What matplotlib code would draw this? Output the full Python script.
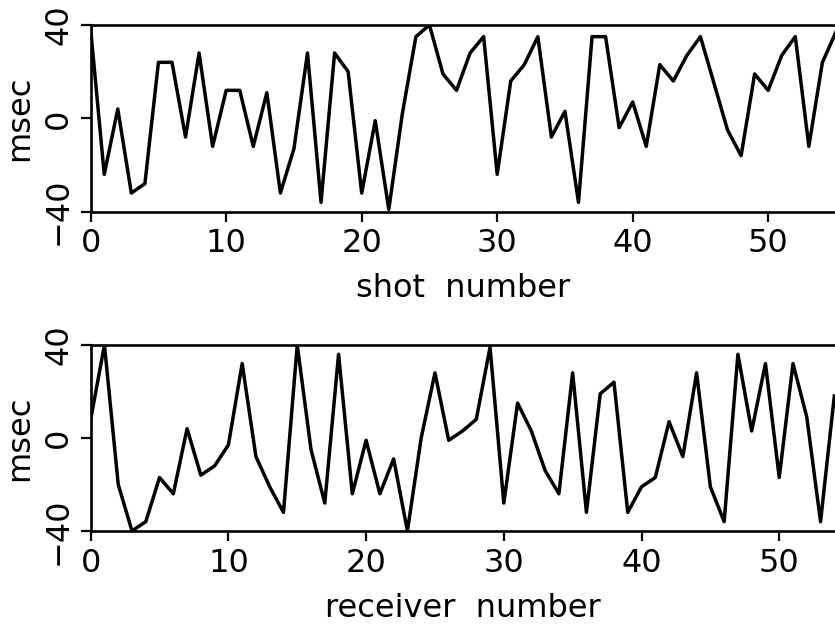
import matplotlib.pyplot as plt
import numpy as np

# Laufzeitfehler je Schuss und je Empfaenger (msec)
shot_nr = np.arange(56)
shot_ms = [38, -24, 4, -32, -28, 24, 24, -8, 28, -12,
           12, 12, -12, 11, -32, -13, 28, -36, 28, 20,
           -32, -1, -39, 2, 35, 40, 19, 12, 28, 35,
           -24, 16, 23, 35, -8, 3, -36, 35, 35, -4,
           7, -12, 23, 16, 27, 35, 15, -5, -16, 19,
           12, 27, 35, -12, 24, 37]

receiver_nr = np.arange(55)
receiver_ms = [8, 40, -20, -40, -36, -17, -24, 4, -16, -12,
               -3, 32, -8, -21, -32, 40, -5, -28, 36, -24,
               -1, -24, -9, -40, 0, 28, -1, 3, 8, 39,
               -28, 15, 3, -14, -24, 28, -32, 19, 24, -32,
               -21, -17, 7, -8, 28, -21, -36, 36, 3, 32,
               -17, 32, 9, -36, 18]

x_ticks = [0, 10, 20, 30, 40, 50]
y_ticks = [-40, 0, 40]

fig = plt.figure(figsize=(8.35, 6.28), dpi=100)
ax1 = fig.add_axes([0.1086, 0.6629, 0.8914, 0.2973])
ax2 = fig.add_axes([0.1086, 0.1545, 0.8914, 0.2962])

panels = [
    (ax1, shot_nr, shot_ms, 'shot  number', 54.93),
    (ax2, receiver_nr, receiver_ms, 'receiver  number', 54.05),
]

for ax, x, y, label, xmax in panels:
    ax.plot(x, y, color='black', lw=2.5)
    ax.set_xlim(0, xmax)
    ax.set_ylim(-40, 40)
    ax.set_xticks(x_ticks)
    ax.set_yticks(y_ticks)
    ax.spines['right'].set_visible(False)
    for s in ['top', 'bottom', 'left']:
        ax.spines[s].set_linewidth(1.9)
    ax.tick_params(direction='out', length=7, width=1.6, labelsize=23, pad=5)
    plt.setp(ax.get_yticklabels(), rotation=90, va='center')
    ax.set_xlabel(label, fontsize=23, labelpad=10)
    ax.set_ylabel('msec', fontsize=23, labelpad=6)

fig.savefig('out.png', dpi=100)
